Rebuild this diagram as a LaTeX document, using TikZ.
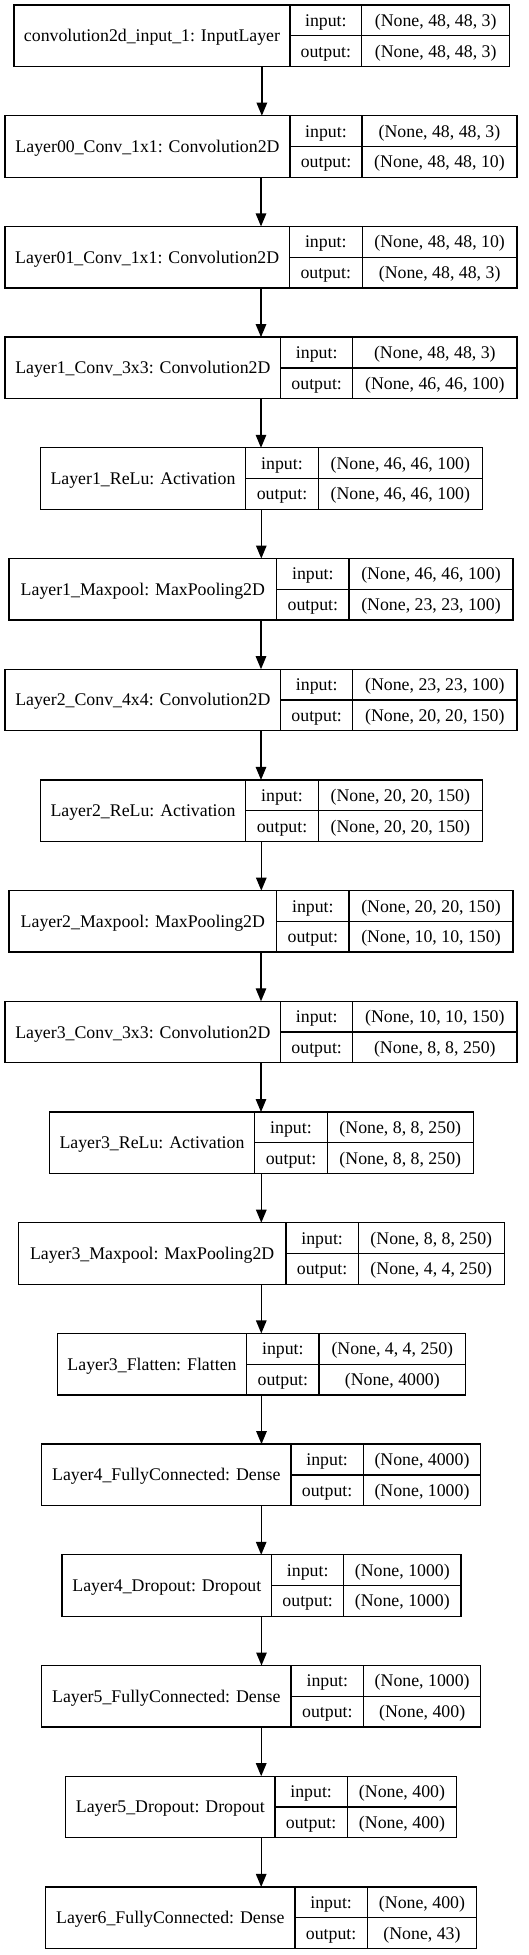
\documentclass[tikz,border=0pt]{standalone}
\usepackage{fontspec}
\setmainfont{Liberation Serif}
\usetikzlibrary{arrows.meta}
\tikzset{
  layerbox/.style={draw, line width=1.3pt, inner sep=0pt, outer sep=0pt, rectangle, fill=white},
  cell/.style={inner sep=0pt, anchor=base, font=\fontsize{17.8}{20}\selectfont},
  rule/.style={line width=1.3pt},
  flow/.style={line width=1.3pt, -{Triangle[length=13pt,width=10.5pt]}},
}
% index, left, d1, d2, right, name, input, output
\newcommand\kerasbox[8]{%
  \pgfmathsetmacro\kbTop{-(5+#1*110.7)}%
  \pgfmathsetmacro\kbBot{\kbTop-61.5}%
  \pgfmathsetmacro\kbMid{\kbTop-30.75}%
  \pgfmathsetmacro\kbCx{(#2+#5)/2}%
  \pgfmathsetmacro\kbW{#5-#2}%
  \pgfmathsetmacro\kbYa{\kbTop-15.4-6}%
  \pgfmathsetmacro\kbYb{\kbTop-46.1-6}%
  \pgfmathsetmacro\kbYn{\kbMid-6}%
  \node[layerbox, minimum width=\kbW pt, minimum height=61.5pt] (b#1) at (\kbCx,\kbMid) {};
  \draw[rule] (#3,\kbTop) -- (#3,\kbBot) (#4,\kbTop) -- (#4,\kbBot) (#3,\kbMid) -- (#5,\kbMid);
  \node[cell] (n#1) at ({(#2+#3)/2},\kbYn) {#6};
  \node[cell] (li#1) at ({(#3+#4)/2},\kbYa) {input:};
  \node[cell] (lo#1) at ({(#3+#4)/2},\kbYb) {output:};
  \node[cell] (vi#1) at ({(#4+#5)/2},\kbYa) {#7};
  \node[cell] (vo#1) at ({(#4+#5)/2},\kbYb) {#8};
}
\begin{document}
\begin{tikzpicture}[x=1pt,y=1pt]
\useasboundingbox (0,0) rectangle (529,-1955);
\fill[white] (0,0) rectangle (529,-1955);
\kerasbox{0}{14}{290}{361.7}{509.7}{convolution2d\_input\_1: InputLayer}{(None, 48, 48, 3)}{(None, 48, 48, 3)}
\kerasbox{1}{5}{290}{362}{517}{Layer00\_Conv\_1x1: Convolution2D}{(None, 48, 48, 3)}{(None, 48, 48, 10)}
\kerasbox{2}{5}{289.3}{362.3}{517}{Layer01\_Conv\_1x1: Convolution2D}{(None, 48, 48, 10)}{(None, 48, 48, 3)}
\kerasbox{3}{5}{280.7}{352.7}{517}{Layer1\_Conv\_3x3: Convolution2D}{(None, 48, 48, 3)}{(None, 46, 46, 100)}
\kerasbox{4}{40.3}{245.7}{318.3}{482.3}{Layer1\_ReLu: Activation}{(None, 46, 46, 100)}{(None, 46, 46, 100)}
\kerasbox{5}{9}{276.7}{349}{513}{Layer1\_Maxpool: MaxPooling2D}{(None, 46, 46, 100)}{(None, 23, 23, 100)}
\kerasbox{6}{5}{280.7}{352.7}{517}{Layer2\_Conv\_4x4: Convolution2D}{(None, 23, 23, 100)}{(None, 20, 20, 150)}
\kerasbox{7}{40.3}{245.7}{318.3}{482.3}{Layer2\_ReLu: Activation}{(None, 20, 20, 150)}{(None, 20, 20, 150)}
\kerasbox{8}{9}{276.7}{349}{513}{Layer2\_Maxpool: MaxPooling2D}{(None, 20, 20, 150)}{(None, 10, 10, 150)}
\kerasbox{9}{5}{280.7}{352.7}{517}{Layer3\_Conv\_3x3: Convolution2D}{(None, 10, 10, 150)}{(None, 8, 8, 250)}
\kerasbox{10}{49.3}{254.7}{327.3}{473.3}{Layer3\_ReLu: Activation}{(None, 8, 8, 250)}{(None, 8, 8, 250)}
\kerasbox{11}{18.3}{286}{358.3}{504.3}{Layer3\_Maxpool: MaxPooling2D}{(None, 8, 8, 250)}{(None, 4, 4, 250)}
\kerasbox{12}{57.3}{246.7}{319}{465.7}{Layer3\_Flatten: Flatten}{(None, 4, 4, 250)}{(None, 4000)}
\kerasbox{13}{41.7}{291}{363.3}{480.7}{Layer4\_FullyConnected: Dense}{(None, 4000)}{(None, 1000)}
\kerasbox{14}{62}{271.7}{343.7}{461}{Layer4\_Dropout: Dropout}{(None, 1000)}{(None, 1000)}
\kerasbox{15}{41.7}{291}{363.7}{480.7}{Layer5\_FullyConnected: Dense}{(None, 1000)}{(None, 400)}
\kerasbox{16}{65.7}{275}{347.3}{456.7}{Layer5\_Dropout: Dropout}{(None, 400)}{(None, 400)}
\kerasbox{17}{45.7}{295}{367.3}{476.7}{Layer6\_FullyConnected: Dense}{(None, 400)}{(None, 43)}
\foreach \i [evaluate=\i as \j using int(\i+1)] in {0,...,16}
  \draw[flow] (b\i.south) -- (b\i.south |- b\j.north);
\end{tikzpicture}
\end{document}
